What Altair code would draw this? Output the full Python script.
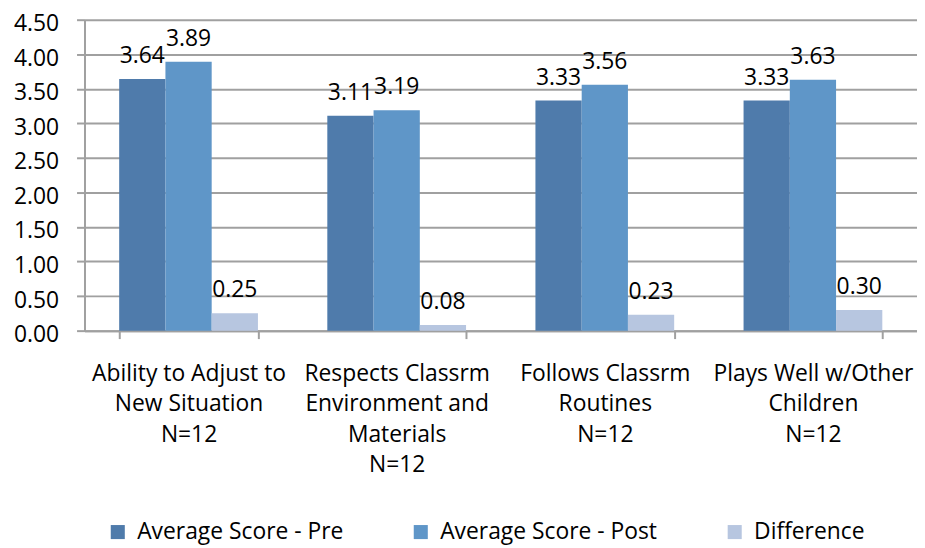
import altair as alt
import pandas as pd

categories = [
    "Ability to Adjust to|New Situation|N=12",
    "Respects Classrm|Environment and|Materials|N=12",
    "Follows Classrm|Routines|N=12",
    "Plays Well w/Other|Children|N=12",
]
series = ["Average Score - Pre", "Average Score - Post", "Difference"]
pre = [3.64, 3.11, 3.33, 3.33]
post = [3.89, 3.19, 3.56, 3.63]
diff = [0.25, 0.08, 0.23, 0.30]
colors = ["#4F7BAB", "#5F96C8", "#B7C6E0"]
y_ticks = [0, 0.5, 1, 1.5, 2, 2.5, 3, 3.5, 4, 4.5]

rows = []
for s, vals in zip(series, [pre, post, diff]):
    for c, v in zip(categories, vals):
        rows.append({"cat": c, "series": s, "value": v})
df = pd.DataFrame(rows)

FONT = "Open Sans"
FS = 23
GRID = "#A0A0A0"

x = alt.X(
    "cat:N",
    sort=categories,
    scale=alt.Scale(paddingInner=1 / 3, paddingOuter=1 / 6),
    axis=alt.Axis(
        title=None,
        labelAngle=0,
        labelExpr="split(datum.label, '|')",
        labelLineHeight=30.7,
        labelFontSize=FS,
        labelFont=FONT,
        labelColor="#000000",
        labelPadding=24,
        labelLimit=0,
        tickBand="extent",
        tickSize=8,
        tickColor=GRID,
        tickWidth=2,
        domainColor=GRID,
        domainWidth=2,
        grid=False,
        labelBaseline="top",
    ),
)
xo = alt.XOffset("series:N", sort=series, scale=alt.Scale(paddingInner=0, paddingOuter=0))
y = alt.Y(
    "value:Q",
    scale=alt.Scale(domain=[0, 4.5], nice=False),
    axis=alt.Axis(
        title=None,
        values=y_ticks,
        format=".2f",
        labelFontSize=FS,
        labelFont=FONT,
        labelColor="#000000",
        labelPadding=18,
        labelOffset=4,
        tickSize=8,
        tickColor=GRID,
        tickWidth=2,
        domainColor=GRID,
        domainWidth=2,
        gridColor=GRID,
        gridWidth=2,
    ),
)
color = alt.Color(
    "series:N",
    sort=series,
    scale=alt.Scale(domain=series, range=colors),
    legend=alt.Legend(
        title=None,
        orient="none",
        legendX=22,
        legendY=504,
        direction="horizontal",
        symbolType="square",
        symbolSize=200,
        symbolStrokeWidth=0,
        labelFontSize=FS,
        labelFont=FONT,
        labelColor="#000000",
        labelLimit=0,
        columnPadding=66,
        labelOffset=8,
    ),
)

base = alt.Chart(df)
bars = base.mark_bar().encode(x=x, xOffset=xo, y=y, color=color)
labels = base.mark_text(
    dy=-16, baseline="alphabetic", fontSize=FS, font=FONT, color="#000000"
).encode(x=x, xOffset=xo, y=y, text=alt.Text("value:Q", format=".2f"))

chart = (
    alt.layer(bars, labels)
    .properties(
        width=838,
        height=313,
        autosize=alt.AutoSizeParams(type="none"),
        padding={"left": 77, "top": 10, "right": 0, "bottom": 215},
    )
    .configure_view(stroke=None)
)

chart.save("out.html", embed_options={"renderer": "svg", "actions": False})
